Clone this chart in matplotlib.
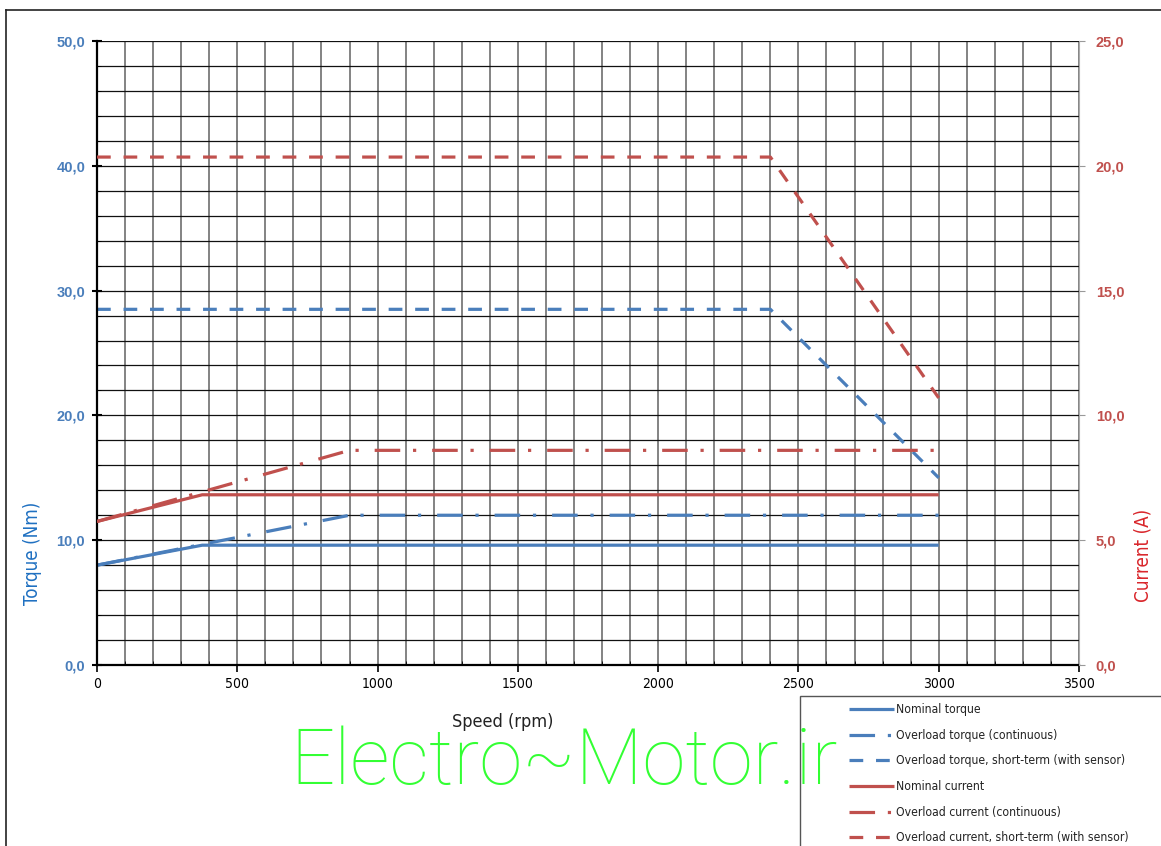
import matplotlib
matplotlib.use("Agg")
import matplotlib.pyplot as plt
from matplotlib.lines import Line2D
from matplotlib.patches import Rectangle
from matplotlib.ticker import MultipleLocator

# data
speed_nom = [0, 375, 3000]
torque_nom = [8.0, 9.6, 9.6]
speed_ovl = [0, 900, 3000]
torque_ovl = [8.0, 12.0, 12.0]
speed_short = [0, 2400, 3000]
torque_short = [28.5, 28.5, 15.0]

current_nom = [5.75, 6.82, 6.82]
current_ovl = [5.75, 8.6, 8.6]
current_short = [20.35, 20.35, 10.7]

torque_ticks = [0, 10, 20, 30, 40, 50]
current_ticks = [0, 5, 10, 15, 20, 25]
speed_ticks = [0, 500, 1000, 1500, 2000, 2500, 3000, 3500]

labels = ['Nominal torque', 'Overload torque (continuous)',
          'Overload torque, short-term (with sensor)', 'Nominal current',
          'Overload current (continuous)', 'Overload current, short-term (with sensor)']

blue = '#4a7ebb'
red = '#c0504d'
cond = dict(family='DejaVu Sans', stretch='condensed')

W, H = 1161, 846
fig = plt.figure(figsize=(W / 100, H / 100), dpi=100)
ax = fig.add_axes([97 / W, 1 - 665 / H, (1079 - 97) / W, (665 - 41) / H])
ax2 = ax.twinx()

lw = 2.3
dashdot = (8, 4.0, 1.0, 5.0)
dashed = (4.3, 4)

l1, = ax.plot(speed_nom, torque_nom, color=blue, lw=lw, solid_capstyle='butt')
l2, = ax.plot(speed_ovl, torque_ovl, color=blue, lw=lw, dashes=dashdot)
l3, = ax.plot(speed_short, torque_short, color=blue, lw=lw, dashes=dashed)
l4, = ax2.plot(speed_nom, current_nom, color=red, lw=lw, solid_capstyle='butt')
l5, = ax2.plot(speed_ovl, current_ovl, color=red, lw=lw, dashes=dashdot)
l6, = ax2.plot(speed_short, current_short, color=red, lw=lw, dashes=dashed)

ax.set_xlim(0, 3500)
ax.set_ylim(0, 50)
ax2.set_ylim(0, 25)

ax.xaxis.set_minor_locator(MultipleLocator(100))
ax.yaxis.set_minor_locator(MultipleLocator(2))
ax.set_xticks(speed_ticks)
ax.set_xticklabels([str(s) for s in speed_ticks], fontsize=10, **cond)
ax.set_yticks(torque_ticks)
ax.set_yticklabels([f"{v:.1f}".replace('.', ',') for v in torque_ticks],
                   fontsize=10.5, fontweight='bold', color=blue, family='Liberation Sans')
ax2.set_yticks(current_ticks)
ax2.set_yticklabels([f"{v:.1f}".replace('.', ',') for v in current_ticks],
                    fontsize=10.5, fontweight='bold', color=red, family='Liberation Sans')

ax.grid(which='both', axis='x', color='#7a7a7a', lw=1.3)
ax.grid(which='both', axis='y', color='#111111', lw=0.9)
ax.tick_params(axis='x', which='major', direction='out', length=5, width=1.2, pad=4)
ax.tick_params(axis='x', which='minor', direction='in', length=3)
ax.tick_params(axis='y', which='major', direction='inout', length=7, width=1.5, pad=5)
ax.tick_params(axis='y', which='minor', direction='in', length=3)
ax2.tick_params(axis='y', direction='out', length=4, color='#999999', pad=8)

ax.spines['top'].set_visible(False)
ax2.spines['top'].set_visible(False)
ax.spines['left'].set_linewidth(1.6)
ax.spines['bottom'].set_linewidth(1.6)
ax2.spines['right'].set_color('#aaaaaa')
ax2.spines['left'].set_visible(False)
ax2.spines['bottom'].set_visible(False)
ax.spines['right'].set_visible(False)

fig.text(503 / W, 1 - 722 / H, 'Speed (rpm)', ha='center', va='center',
         fontsize=13, color='#222222', **cond)
fig.text(32 / W, 1 - 553 / H, 'Torque (Nm)', ha='center', va='center', rotation=90,
         fontsize=13.5, color='#1f70c1', **cond)
fig.text(1143 / W, 1 - 555 / H, 'Current (A)', ha='center', va='center', rotation=90,
         fontsize=13.5, color='#d9262b', **cond)

# legend box at bottom right, running off the edge
fig.add_artist(Rectangle((800 / W, -0.1), 0.5, 0.1 + (846 - 696) / H,
                         transform=fig.transFigure, facecolor='white',
                         edgecolor='#555555', lw=1))
leg = fig.legend([l1, l2, l3, l4, l5, l6], labels, loc='upper left',
                 bbox_to_anchor=(843 / W, 1 - 697 / H), frameon=False,
                 borderpad=0, handlelength=3.7, handletextpad=0.2,
                 labelspacing=1.05, prop=dict(size=8.7, **cond))
for t in leg.get_texts():
    t.set_color('#222222')

# outer border of the original image
fig.add_artist(Line2D([6 / W, 6 / W], [0, 1 - 10 / H], transform=fig.transFigure,
                      color='#222222', lw=1.2))
fig.add_artist(Line2D([6 / W, 1], [1 - 10 / H, 1 - 10 / H], transform=fig.transFigure,
                      color='#222222', lw=1.2))

# watermark
fig.text(290 / W, 1 - 784 / H, 'Electro~Motor.ir', ha='left', va='baseline',
         fontsize=56, family='Roboto', fontweight='light', color='#33ff33', zorder=10)

fig.savefig('out.png', dpi=100)
